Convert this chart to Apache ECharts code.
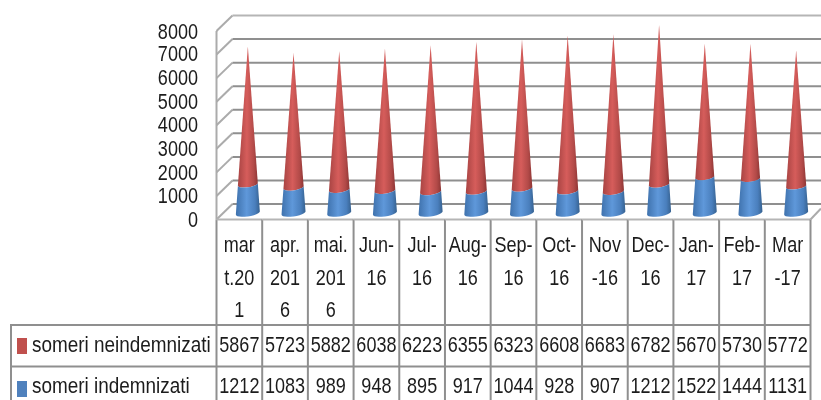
<!DOCTYPE html>
<html>
<head>
<meta charset="utf-8">
<style>
html, body { margin: 0; padding: 0; background: #fff; }
#main { width: 821px; height: 400px; }
</style>
<script src="https://cdn.jsdelivr.net/npm/echarts@6/dist/echarts.min.js"></script>
</head>
<body>
<div id="main"></div>
<script>
var monthLabels = ['mar\nt.20\n1', 'apr.\n201\n6', 'mai.\n201\n6', 'Jun-\n16', 'Jul-\n16', 'Aug-\n16', 'Sep-\n16', 'Oct-\n16', 'Nov\n-16', 'Dec-\n16', 'Jan-\n17', 'Feb-\n17', 'Mar\n-17'];
var neindemnizati = [5867, 5723, 5882, 6038, 6223, 6355, 6323, 6608, 6683, 6782, 5670, 5730, 5772];
var indemnizati = [1212, 1083, 989, 948, 895, 917, 1044, 928, 907, 1212, 1522, 1444, 1131];
var yTicks = [0, 1000, 2000, 3000, 4000, 5000, 6000, 7000, 8000];
var nameRed = 'someri neindemnizati';
var nameBlue = 'someri indemnizati';

var textFont = '22px "Liberation Sans", sans-serif';
var textColor = '#1c1c1c';
var lineColor = '#8f8f8f';
var rowRed = 346, rowBlue = 387;

// depth of the fake 3D box, in px
var depthX = 16, depthY = 15.5;

function conePoints(api, low, high, total) {
    var cx = api.coord([api.value(0), 0])[0] + 8.5;
    var pts = [];
    var i, t, k, yc;
    // front edge of the lower ring, left to right
    k = 1 - low / total;
    yc = api.coord([0, low])[1] - 6.5;
    for (i = 0; i <= 12; i++) {
        t = Math.PI - Math.PI * i / 12;
        pts.push([cx + 12 * k * Math.cos(t), yc + 3.5 * k * Math.sin(t) - 1.6 * k * Math.cos(t)]);
    }
    // front edge of the upper ring, back again
    k = 1 - high / total;
    yc = api.coord([0, high])[1] - 6.5;
    for (i = 0; i <= 12; i++) {
        t = Math.PI * i / 12;
        pts.push([cx + 12 * k * Math.cos(t), yc + 3.5 * k * Math.sin(t) - 1.6 * k * Math.cos(t)]);
    }
    return pts;
}

function coneRender(stops) {
    return function(params, api) {
        return {
            type: 'polygon',
            shape: { points: conePoints(api, api.value(1), api.value(2), api.value(3)) },
            style: { fill: new echarts.graphic.LinearGradient(0, 0, 1, 0, stops) }
        };
    };
}

var redStops = [
    { offset: 0, color: '#a84443' },
    { offset: 0.45, color: '#d65d5b' },
    { offset: 0.8, color: '#b24a48' },
    { offset: 1, color: '#8e3635' }
];
var blueStops = [
    { offset: 0, color: '#3f72ad' },
    { offset: 0.45, color: '#5f98da' },
    { offset: 0.8, color: '#4a7fbd' },
    { offset: 1, color: '#36618f' }
];

var redData = [], blueData = [];
monthLabels.forEach(function(m, i) {
    var total = indemnizati[i] + neindemnizati[i];
    blueData.push([i, 0, indemnizati[i], total]);
    redData.push([i, indemnizati[i], total, total]);
});

function line(x1, y1, x2, y2, color, width) {
    return {
        type: 'line',
        shape: { x1: x1, y1: y1, x2: x2, y2: y2 },
        style: { stroke: color, lineWidth: width }
    };
}

// no condensed font here, so squeeze the text sideways
function label(str, x, y, align, squeeze) {
    return {
        type: 'text',
        x: x,
        y: y,
        scaleX: squeeze || 0.82,
        style: { text: String(str), x: 0, y: 0, font: textFont, fill: textColor, align: align, verticalAlign: 'middle' }
    };
}

function swatch(x, y, color) {
    return { type: 'rect', shape: { x: x, y: y, width: 10, height: 16 }, style: { fill: color } };
}

// back wall, side wall lines and the value labels
function wallRender(params, api) {
    var v = api.value(1);
    var p = api.coord([0, v]);
    var left = p[0] - api.size([1, 0])[0] / 2;
    var y = p[1];
    var top = v === 8000;
    var items = [
        line(left, y, left + depthX, y - depthY, '#ababab', 2),
        line(left + depthX, y - depthY, 821, y - depthY, top ? '#b5b5b5' : lineColor, 2),
        label(v, 198, y + (8000 - v) / 8000 - 0.5 + (v === 8000 ? 2 : 1), 'right')
    ];
    return { type: 'group', children: items };
}

// table borders, table text and the box edges around the floor
function tableRender(params, api) {
    var i = api.value(0);
    var band = api.size([1, 0])[0];
    var left = api.coord([i, 0])[0] - band / 2;
    var right = left + band;
    var mid = left + band / 2;
    var y0 = api.coord([0, 0])[1];
    var items = [line(left, y0, left, 400, lineColor, 2)];
    if (i === 0) {
        items.push(line(left, api.coord([0, 8000])[1], left, y0, '#ababab', 2));
        items.push(line(11, 325, 11, 400, lineColor, 2));
        items.push(line(10, 325, left, 325, lineColor, 2));
        items.push(line(10, 366.5, left, 366.5, lineColor, 2));
        items.push(swatch(17, 338, '#c0504d'));
        items.push(swatch(17, 381, '#4f81bd'));
        items.push(label(nameRed, 32, rowRed, 'left', 0.86));
        items.push(label(nameBlue, 32, rowBlue, 'left', 0.86));
    }
    items.push(line(left, 325, right, 325, lineColor, 2));
    items.push(line(left, 366.5, right, 366.5, lineColor, 2));
    items.push(line(left, y0, right, y0, '#b5b5b5', 2));
    if (i === monthLabels.length - 1) {
        items.push(line(right, y0, right, 400, lineColor, 2));
        items.push(line(right, y0, 821, y0 - 11, '#ababab', 2));
    }
    monthLabels[i].split('\n').forEach(function(s, n) {
        items.push(label(s, mid, 246 + n * 32.5, 'center'));
    });
    items.push(label(neindemnizati[i], mid, rowRed, 'center'));
    items.push(label(indemnizati[i], mid, rowBlue, 'center'));
    return { type: 'group', children: items };
}

var chart = echarts.init(document.getElementById('main'), null, { renderer: 'canvas' });
chart.setOption({
    animation: false,
    backgroundColor: '#fff',
    grid: { left: 216.5, top: 31, width: 594, height: 188.5 },
    xAxis: {
        type: 'category',
        data: monthLabels,
        axisLine: { show: false },
        axisTick: { show: false },
        splitLine: { show: false },
        axisLabel: { show: false }
    },
    yAxis: {
        type: 'value',
        min: 0,
        max: 8000,
        interval: 1000,
        axisLine: { show: false },
        axisTick: { show: false },
        splitLine: { show: false },
        axisLabel: { show: false }
    },
    series: [{
        type: 'custom',
        silent: true,
        renderItem: wallRender,
        encode: { x: 0, y: 1 },
        data: yTicks.map(function(v) { return [0, v]; }),
        z: 1
    }, {
        type: 'custom',
        silent: true,
        renderItem: tableRender,
        encode: { x: 0, y: 1 },
        data: monthLabels.map(function(m, i) { return [i, 0]; }),
        z: 2
    }, {
        type: 'custom',
        name: nameRed,
        silent: true,
        renderItem: coneRender(redStops),
        encode: { x: 0, y: 2 },
        data: redData,
        z: 3
    }, {
        type: 'custom',
        name: nameBlue,
        silent: true,
        renderItem: coneRender(blueStops),
        encode: { x: 0, y: 2 },
        data: blueData,
        z: 4
    }]
});
</script>
</body>
</html>
